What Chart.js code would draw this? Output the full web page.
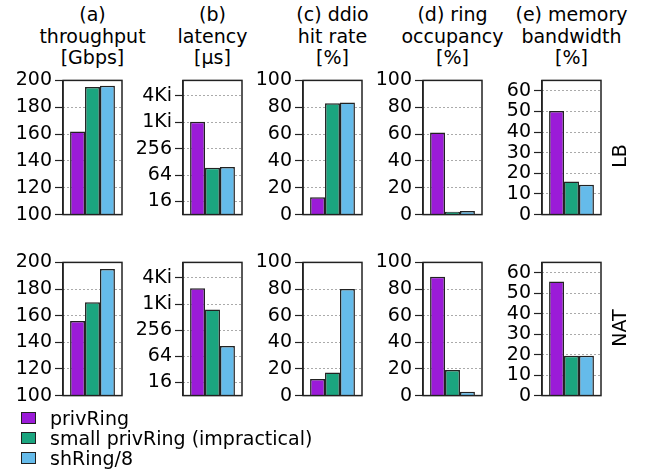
<!DOCTYPE html>
<html>
<head>
<meta charset="utf-8">
<script src="https://cdn.jsdelivr.net/npm/chart.js@4/dist/chart.umd.min.js"></script>
<style>
  body { margin: 0; background: #fff; width: 645px; height: 471px; position: relative; overflow: hidden;
         font-family: "DejaVu Sans", sans-serif; color: #000; }
  .panel { position: absolute; }
  .title { position: absolute; width: 140px; text-align: center; font-size: 19px; line-height: 21.5px; top: 4px; white-space: nowrap; }
  .rowlab { position: absolute; font-size: 19px; transform: translate(-50%, -50%) rotate(-90deg); white-space: nowrap; }
  .legend { position: absolute; left: 21px; top: 408px; font-size: 19px; line-height: 20px; }
  .legend div { position: relative; padding-left: 29px; white-space: nowrap; }
  .legend span { position: absolute; left: 0; top: 4px; width: 13px; height: 10px; border: 1.5px solid #222; }
</style>
</head>
<body>
<script>
// series + categories
const series = ["privRing", "small privRing (impractical)", "shRing/8"];
const colors = ["#9b1bd8", "#1ba57f", "#65bbea"];
const rows = ["LB", "NAT"];

// values, [privRing, small privRing, shRing/8]
const throughputLB = [162, 195, 196];
const throughputNAT = [156, 170, 195];
const latencyLB = [1050, 94, 98];
const latencyNAT = [2360, 763, 111];
const ddioLB = [13, 83, 83.5];
const ddioNAT = [12.4, 17.4, 80];
const ringLB = [61.2, 2.2, 2.6];
const ringNAT = [89.3, 19.2, 2.8];
const memLB = [50.2, 16, 14.4];
const memNAT = [55.7, 19.5, 19.5];

// tick values / labels
const throughputTicks = [100, 120, 140, 160, 180, 200];
const latencyTicks = [16, 64, 256, 1024, 4096];
const latencyTickLabels = ["16", "64", "256", "1Ki", "4Ki"];
const pctTicks = [0, 20, 40, 60, 80, 100];
const memTicks = [0, 10, 20, 30, 40, 50, 60];

const panels = [
  { title: ["(a)", "throughput", "[Gbps]"], min: 100, max: 200, ticks: throughputTicks, data: [throughputLB, throughputNAT] },
  { title: ["(b)", "latency", "[\u00b5s]"], log: true, min: 8, max: 9300, ticks: latencyTicks, labels: latencyTickLabels, data: [latencyLB, latencyNAT] },
  { title: ["(c) ddio", "hit rate", "[%]"], min: 0, max: 100, ticks: pctTicks, data: [ddioLB, ddioNAT] },
  { title: ["(d) ring", "occupancy", "[%]"], min: 0, max: 100, ticks: pctTicks, data: [ringLB, ringNAT] },
  { title: ["(e) memory", "bandwidth", "[%]"], min: 0, max: 65, ticks: memTicks, data: [memLB, memNAT] },
];

// layout
const plotLeft = [63, 183, 303, 423, 542];
const plotTop = [80, 262];
const plotH = [135, 134];
const PLOT_W = 59;
const AXIS_W = 62;
const PAD = 14;
const FONT = "DejaVu Sans";

const frame = {
  id: "frame",
  afterDraw(chart) {
    const { ctx, chartArea: a } = chart;
    ctx.save();
    ctx.strokeStyle = "#222";
    ctx.lineWidth = 1.5;
    ctx.strokeRect(a.left, a.top, a.right - a.left, a.bottom - a.top);
    ctx.restore();
  },
};

function makePanel(col, row) {
  const p = panels[col];
  const wrap = document.createElement("div");
  wrap.className = "panel";
  wrap.style.left = plotLeft[col] - AXIS_W + "px";
  wrap.style.top = plotTop[row] - PAD + "px";
  wrap.style.width = AXIS_W + PLOT_W + 4 + "px";
  wrap.style.height = plotH[row] + 2 * PAD + "px";
  const cv = document.createElement("canvas");
  wrap.appendChild(cv);
  document.body.appendChild(wrap);

  new Chart(cv, {
    type: "bar",
    data: {
      labels: [rows[row]],
      datasets: series.map((name, i) => ({
        label: name,
        data: [p.data[row][i]],
        backgroundColor: colors[i],
        borderColor: "#222",
        borderWidth: 1.5,
        categoryPercentage: 0.76,
        barPercentage: 1,
      })),
    },
    options: {
      responsive: true,
      maintainAspectRatio: false,
      animation: false,
      layout: { padding: { top: PAD, bottom: PAD, left: 0, right: 4 } },
      plugins: { legend: { display: false }, tooltip: { enabled: false } },
      scales: {
        x: { display: false },
        y: {
          type: p.log ? "logarithmic" : "linear",
          min: p.min,
          max: p.max,
          afterBuildTicks: (s) => {
            s.ticks = p.ticks.map((v) => ({ value: v }));
          },
          afterFit: (s) => {
            s.width = AXIS_W;
          },
          ticks: {
            font: { family: FONT, size: 19 },
            color: "#000",
            padding: 3,
            autoSkip: false,
            callback: (v, i) => (p.labels ? p.labels[i] : String(p.ticks[i])),
          },
          grid: { color: "#555", lineWidth: 1, tickColor: "#222", tickLength: 8, tickWidth: 1.2, tickBorderDash: [] },
          border: { display: true, color: "#222", width: 1.5, dash: [1, 3] },
        },
      },
    },
    plugins: [frame],
  });
}

function addText(cls, html, left, top) {
  const d = document.createElement("div");
  d.className = cls;
  d.innerHTML = html;
  d.style.left = left + "px";
  d.style.top = top + "px";
  document.body.appendChild(d);
}

panels.forEach((p, col) => {
  const t = document.createElement("div");
  t.className = "title";
  t.style.left = plotLeft[col] + PLOT_W / 2 - 70 + "px";
  t.innerHTML = p.title.join("<br>");
  document.body.appendChild(t);
  makePanel(col, 0);
  makePanel(col, 1);
});

addText("rowlab", rows[0], 619, 156);
addText("rowlab", rows[1], 619, 328);

const lg = document.createElement("div");
lg.className = "legend";
series.forEach((name, i) => {
  const item = document.createElement("div");
  item.innerHTML = '<span style="background:' + colors[i] + '"></span>' + name;
  lg.appendChild(item);
});
document.body.appendChild(lg);
</script>
</body>
</html>
